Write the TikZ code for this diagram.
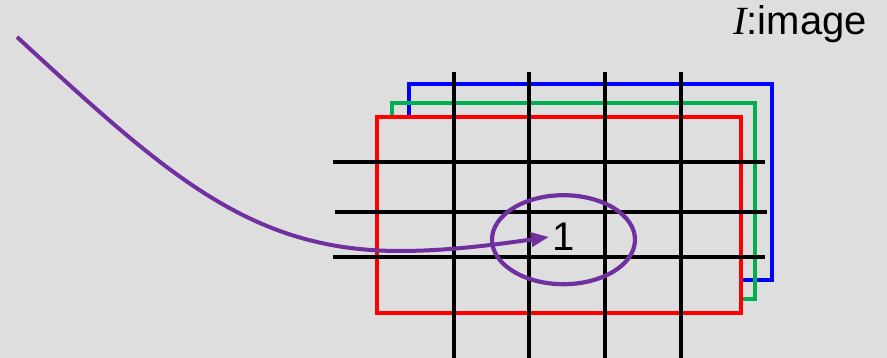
\documentclass[tikz,border=0pt]{standalone}
\usepackage{fontspec}
\setmainfont{Liberation Sans}
\newfontfamily\serifit{Liberation Serif}
\usetikzlibrary{shapes.geometric,arrows.meta}
\definecolor{bgcol}{RGB}{222,222,222}
\definecolor{pred}{RGB}{255,0,0}
\definecolor{pgreen}{RGB}{0,176,80}
\definecolor{pblue}{RGB}{0,0,255}
\definecolor{ppurple}{RGB}{112,48,160}
\tikzset{
  chan/.style={line width=3.6pt, line join=miter},
  gridline/.style={line width=4pt, black},
  lens/.style={ellipse, draw=ppurple, line width=4.2pt, inner sep=0pt},
  pointer/.style={draw=ppurple, line width=4pt, -{Triangle[length=18pt,width=14pt]}},
  bigtext/.style={font=\fontsize{40}{48}\selectfont, inner sep=0pt}
}
\begin{document}
\begin{tikzpicture}[x=1pt,y=-1pt]
\fill[bgcol] (0,0) rectangle (887,358);
\useasboundingbox (0,0) rectangle (887,358);
% channel planes (back to front)
\draw[chan, pblue] (409,117) -- (409,84) -- (772,84) -- (772,280) -- (741,280);
\draw[chan, pgreen] (392,117) -- (392,103) -- (755,103) -- (755,299) -- (741,299);
\draw[chan, pred] (377,117) rectangle (741,313);
% grid
\foreach \x in {454,529,605,681} \draw[gridline] (\x,72) -- (\x,360);
\draw[gridline] (333,162) -- (765,162);
\draw[gridline] (335,212) -- (767,212);
\draw[gridline] (333,257) -- (765,257);
% highlighted pixel
\node[lens, minimum width=143pt, minimum height=89pt] (ell) at (563.5,239.7) {};
\node[bigtext, anchor=base] (one) at (563.5,250.7) {1};
% pointer
\coordinate (s) at (17,37);
\coordinate (m) at (400,251);
\coordinate (e) at (549,237);
\draw[pointer] (s) .. controls (167,175) and (250,251) .. (m)
               .. controls (450,251) and (500,244) .. (e);
% label
\node[bigtext, anchor=base east] (lbl) at (867,35) {{\serifit\itshape I}:image};
\end{tikzpicture}
\end{document}
